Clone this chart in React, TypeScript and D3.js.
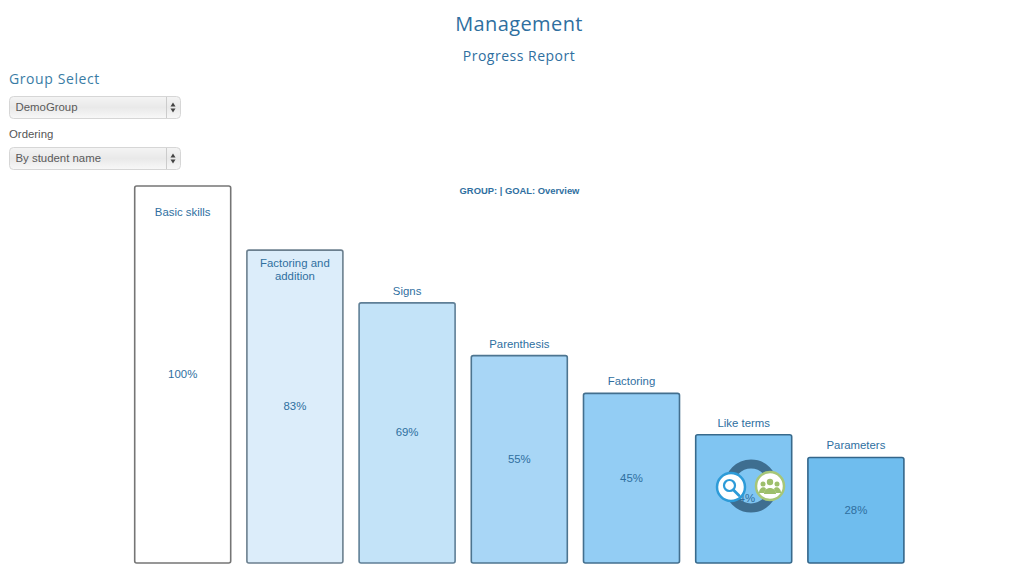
import React from "react";
import * as d3 from "d3";

const categories = ["Basic skills", "Factoring and addition", "Signs", "Parenthesis", "Factoring", "Like terms", "Parameters"];
const values = [100, 83, 69, 55, 45, 34, 28];
const fills = ["#ffffff", "#dcedfa", "#c3e3f8", "#a8d6f6", "#93cdf4", "#80c5f2", "#6fbdee"];
const strokes = ["#757575", "#6b7f8e", "#5f7f96", "#4d7590", "#436f8e", "#386a8c", "#34668a"];
const selects = ["DemoGroup", "By student name"];

const x = d3.scaleBand<string>().domain(categories).range([126.6, 912]).paddingInner(0.1444).paddingOuter(0.0722);
const y = d3.scaleLinear().domain([0, 100]).range([563, 186]);
const BLUE = "#2f6f9f";
const SANS = "'Liberation Sans', Arial, sans-serif";
const HEAD = "'Open Sans', sans-serif";

function Select({ top, label }: { top: number; label: string }) {
  return (
    <g>
      <rect x={9.5} y={top + 0.5} width={171} height={22} rx={4} fill="url(#sel)" stroke="#d6d6d6" />
      <line x1={166.5} x2={166.5} y1={top + 1} y2={top + 22} stroke="#cccccc" />
      <path d={`M173 ${top + 6.5}l2.5 4h-5zM173 ${top + 16.5}l2.5 -4h-5z`} fill="#444" />
      <text x={15.5} y={top + 15} fontFamily={SANS} fontSize={11.4} fill="#5a5a5a">{label}</text>
    </g>
  );
}

export default function App() {
  return (
    <svg width={1024} height={585} style={{ position: "absolute", left: 0, top: 0 }}>
      <defs>
        <linearGradient id="sel" x1="0" x2="0" y1="0" y2="1">
          <stop offset="0" stopColor="#f4f4f4" />
          <stop offset="0.5" stopColor="#e9e9e9" />
          <stop offset="1" stopColor="#f8f8f8" />
        </linearGradient>
      </defs>
      <text x={519} y={31} textAnchor="middle" fontFamily={HEAD} fontSize={20} fontWeight={500} letterSpacing={0.4} fill={BLUE}>Management</text>
      <text x={519} y={60.5} textAnchor="middle" fontFamily={HEAD} fontSize={14} fontWeight={500} letterSpacing={0.5} fill={BLUE}>Progress Report</text>
      <text x={9} y={84} fontFamily={HEAD} fontSize={14} fontWeight={500} letterSpacing={0.6} fill="#3a7ca5">Group Select</text>
      <Select top={96} label={selects[0]} />
      <text x={9} y={138} fontFamily={SANS} fontSize={11.4} fill="#555">Ordering</text>
      <Select top={147} label={selects[1]} />
      <text x={519.5} y={194} textAnchor="middle" fontFamily={SANS} fontSize={9.4} fontWeight="bold" fill={BLUE}>GROUP: | GOAL: Overview</text>
      {categories.map((c, i) => {
        const bx = x(c)!;
        const w = x.bandwidth();
        const top = y(values[i]);
        const cx = bx + w / 2;
        const two = c === "Factoring and addition";
        return (
          <g key={c}>
            <rect x={bx} y={top} width={w} height={y(0) - top} rx={2} fill={fills[i]} stroke={strokes[i]} strokeWidth={1.6} />
            {i === 0 ? (
              <text x={cx} y={top + 30} textAnchor="middle" fontFamily={SANS} fontSize={11.4} fill={BLUE}>{c}</text>
            ) : two ? (
              <text textAnchor="middle" fontFamily={SANS} fontSize={11.4} fill={BLUE}>
                <tspan x={cx} y={top + 17}>Factoring and</tspan>
                <tspan x={cx} y={top + 30}>addition</tspan>
              </text>
            ) : (
              <text x={cx} y={top - 8} textAnchor="middle" fontFamily={SANS} fontSize={11.4} fill={BLUE}>{c}</text>
            )}
            <text x={cx} y={(top + y(0)) / 2 + 3.5} textAnchor="middle" fontFamily={SANS} fontSize={11.4} fill={BLUE}>{values[i]}%</text>
          </g>
        );
      })}
      <g>
        <circle cx={751} cy={486} r={22} fill="none" stroke="#3e6e90" strokeWidth={9} />
        <circle cx={731} cy={487} r={14} fill="#fff" stroke="#2d9bd8" strokeWidth={2.5} />
        <circle cx={729.5} cy={485.5} r={5.5} fill="#fff" stroke="#2d9bd8" strokeWidth={2.2} />
        <line x1={733.5} y1={490} x2={739} y2={495.5} stroke="#2d9bd8" strokeWidth={2.8} strokeLinecap="round" />
        <circle cx={770} cy={486} r={14} fill="#fff" stroke="#a6c678" strokeWidth={2.5} />
        <circle cx={770} cy={482} r={3.2} fill="#9dbf6c" />
        <path d="M764 494c0-8 12-8 12 0z" fill="#9dbf6c" />
        <circle cx={763} cy={484} r={2.5} fill="#9dbf6c" />
        <path d="M759 493c0-6 6-7 7-4l-2 4z" fill="#9dbf6c" />
        <circle cx={777} cy={484} r={2.5} fill="#9dbf6c" />
        <path d="M781 493c0-6 -6-7 -7-4l2 4z" fill="#9dbf6c" />
      </g>
    </svg>
  );
}
